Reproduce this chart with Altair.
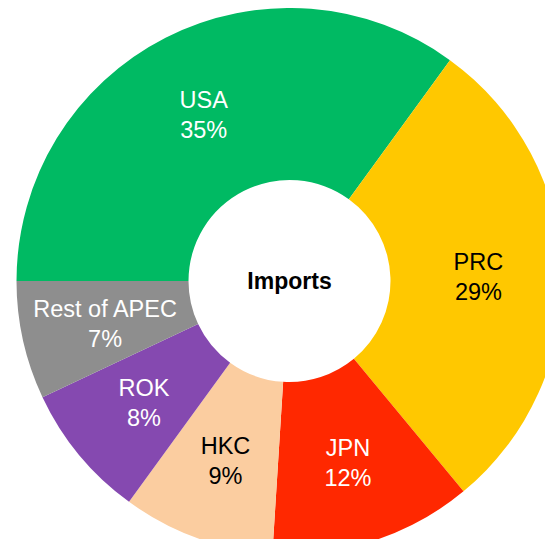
import math
import altair as alt
import pandas as pd

categories = ["USA", "PRC", "JPN", "HKC", "ROK", "Rest of APEC"]
values = [35, 29, 12, 9, 8, 7]
colors = ["#00BA63", "#FFC800", "#FF2800", "#FBCDA0", "#8549B0", "#8E8E8E"]
text_colors = ["white", "black", "white", "black", "white", "white"]
center_label = "Imports"

df = pd.DataFrame({
    "cat": categories,
    "value": values,
    "color": colors,
    "tcolor": text_colors,
    "order": list(range(len(categories))),
})
df["label"] = [f"{c}\n{v}%" for c, v in zip(categories, values)]

CX, CY = 281.5, 273
theta_scale = alt.Scale(range=[-math.pi / 2, 3 * math.pi / 2])

base = alt.Chart(df).encode(
    theta=alt.Theta("value:Q", stack=True, scale=theta_scale),
    order=alt.Order("order:Q"),
)

arcs = base.mark_arc(radius=273, radius2=101).encode(
    color=alt.Color("color:N", scale=None),
    x=alt.value(CX), y=alt.value(CY),
)

labels = base.mark_text(
    radius=189, fontSize=23.5, font="Liberation Sans", lineBreak="\n",
    lineHeight=30, align="center", baseline="middle", dy=-12,
).encode(
    text="label:N",
    color=alt.Color("tcolor:N", scale=None),
    x=alt.value(CX), y=alt.value(CY),
)

center = alt.Chart(pd.DataFrame({"t": [center_label]})).mark_text(
    fontSize=23, fontWeight="bold", font="Liberation Sans", color="black",
    align="center", baseline="middle",
).encode(text="t:N", x=alt.value(CX), y=alt.value(CY + 1))

chart = alt.layer(arcs, labels, center).properties(
    width=537, height=531, padding=0,
    autosize=alt.AutoSizeParams(type="none"),
).configure_view(stroke=None)

chart.save("out.html", embed_options={"renderer": "svg", "actions": False})
